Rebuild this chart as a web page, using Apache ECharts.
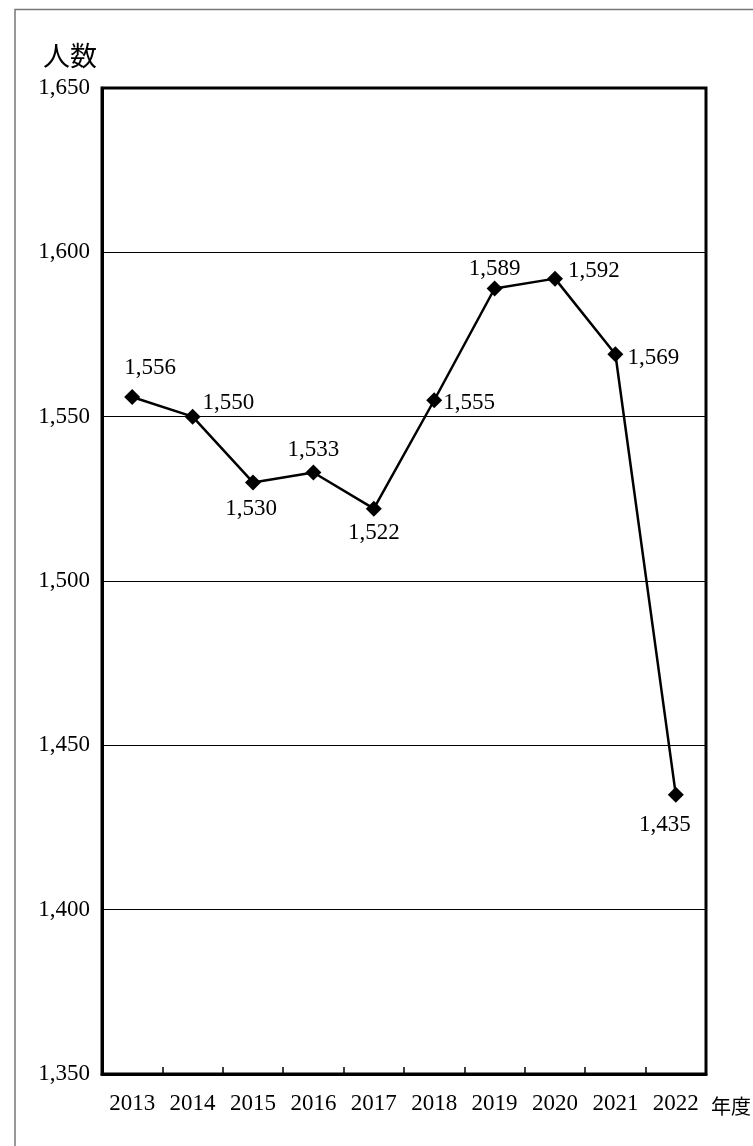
<!DOCTYPE html>
<html>
<head>
<meta charset="utf-8">
<script src="https://cdn.jsdelivr.net/npm/echarts@6/dist/echarts.min.js"></script>
<style>
html,body{margin:0;padding:0;background:#fff;}
#chart{width:753px;height:1146px;}
</style>
</head>
<body>
<div id="chart"></div>
<script>
const years = ['2013','2014','2015','2016','2017','2018','2019','2020','2021','2022'];
const persons = [1556, 1550, 1530, 1533, 1522, 1555, 1589, 1592, 1569, 1435];
const yAxisTitle = '人数';
const xAxisTitle = '年度';

// label placement per point (style only)
const labelPlace = [
  {position:'top', offset:[18,-4]},
  {position:'right', offset:[-3,-14]},
  {position:'bottom', offset:[-2,2]},
  {position:'top', offset:[0,2]},
  {position:'bottom', offset:[0,0]},
  {position:'right', offset:[-4,3]},
  {position:'top', offset:[0,5]},
  {position:'right', offset:[0,-8]},
  {position:'right', offset:[-1,4]},
  {position:'bottom', offset:[-11,6]}
];

const fmt = v => String(v).replace(/\B(?=(\d{3})+(?!\d))/g, ',');
const serif = '"Liberation Serif", "DejaVu Serif", serif';
const cjk = '"Noto Sans CJK JP", sans-serif';

const chart = echarts.init(document.getElementById('chart'), null, {renderer:'canvas'});
chart.setOption({
  animation: false,
  backgroundColor: '#fff',
  grid: {left:102, top:88, right:47, bottom:72, show:true, borderColor:'#000', borderWidth:3, backgroundColor:'transparent'},
  xAxis: {
    type:'category',
    data: years,
    boundaryGap: true,
    axisLine:{show:true, lineStyle:{color:'#000', width:3}},
    axisTick:{show:true, inside:true, length:7, lineStyle:{color:'#000', width:1.5}},
    axisLabel:{color:'#000', fontFamily:serif, fontSize:23, margin:18},
    splitLine:{show:false}
  },
  yAxis: {
    type:'value',
    min:1350, max:1650, interval:50,
    axisLine:{show:true, lineStyle:{color:'#000', width:3}},
    axisTick:{show:false},
    axisLabel:{color:'#000', fontFamily:serif, fontSize:23, margin:12, formatter: v => fmt(v)},
    splitLine:{show:true, lineStyle:{color:'#000', width:1}}
  },
  series: [{
    type:'line',
    data: persons.map((v,i) => ({value:v, label:{show:true, position:labelPlace[i].position, offset:labelPlace[i].offset}})),
    symbol:'diamond',
    symbolSize:[16,16],
    itemStyle:{color:'#000'},
    lineStyle:{color:'#000', width:2.5},
    label:{show:true, color:'#000', fontFamily:serif, fontSize:23, distance:5, formatter: p => fmt(p.value)}
  }],
  graphic: [
    {type:'rect', shape:{x:15, y:9.5, width:800, height:1200}, style:{fill:'none', stroke:'#777', lineWidth:1.5}, silent:true},
    {type:'text', left:43, top:42, style:{text:yAxisTitle, font:'27px ' + cjk, fill:'#000'}},
    {type:'text', x:711, y:1106, style:{text:xAxisTitle, font:'20px ' + cjk, fill:'#000', verticalAlign:'middle', align:'left'}}
  ]
});
</script>
</body>
</html>
